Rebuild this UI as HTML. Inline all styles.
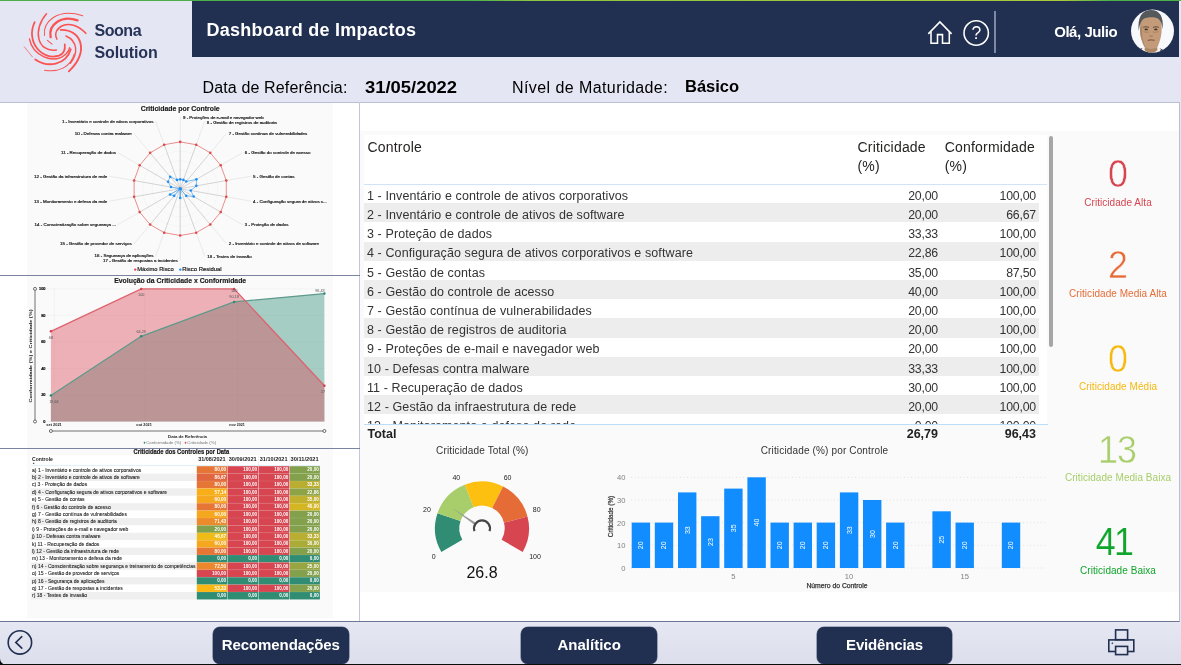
<!DOCTYPE html>
<html lang="pt-BR">
<head>
<meta charset="utf-8">
<title>Dashboard de Impactos</title>
<style>
*{box-sizing:border-box;margin:0;padding:0}
html,body{width:1181px;height:665px;overflow:hidden;background:#E4E6F3;font-family:"Liberation Sans",sans-serif;}
.abs{position:absolute}
#top{left:0;top:0;width:1181px;height:1px;background:linear-gradient(90deg,#4CB04A 0,#4CB04A 40%,#8DC63F 45%,#A9C93A 90%,#4CB04A 94%)}
#hdr{left:192px;top:1px;width:987px;height:56px;background:#212F50}
#title{left:206.5px;top:17.5px;font-size:18px;font-weight:bold;color:#fff;white-space:nowrap;line-height:24px;letter-spacing:0.27px}
.brand{color:#263357;font-size:16px;font-weight:bold;white-space:nowrap;line-height:20px}
.sub{font-size:16px;color:#000;white-space:nowrap;line-height:20px}
.subb{font-size:16.5px;color:#000;font-weight:bold;white-space:nowrap;line-height:20px}
#main{left:0;top:102px;width:1180px;height:520px;background:#fff;border:1px solid #B9BFD4;border-left:none;border-bottom-color:#6E7894}
#vdiv{left:359px;top:102px;width:1px;height:519px;background:#C3C8DA}
.hsep{left:0;width:360px;height:1px;background:#7A84A2}
.img{left:27px;width:306px;background:#FAFAFA}
#foot{left:0;top:622px;width:1181px;height:43px;background:linear-gradient(#E5E7F3,#DCDFEB)}
.btn{top:626.8px;height:37px;background:#212F50;border-radius:7px;color:#fff;font-weight:bold;font-size:15px;text-align:center;line-height:35.5px;box-shadow:0 0 0 0.6px #69738f}
#botline{left:0;top:663.6px;width:1181px;height:1.4px;background:#0c0c0c}
.th{font-size:14px;line-height:19px;color:#252423;white-space:nowrap;letter-spacing:0.2px}
.tr{left:0;width:675px;height:19.2px;font-size:12.5px;line-height:19.2px;color:#333;white-space:nowrap}
.tr span{position:absolute;top:2.9px}
.c1{left:3px;letter-spacing:0.1px}
.c2{right:101px;font-size:12.3px;letter-spacing:-0.2px}
.c3{right:3px;font-size:12.3px;letter-spacing:-0.2px}
.tot{font-size:12.5px;font-weight:bold;color:#222;line-height:19px;white-space:nowrap}
.cn{width:124px;text-align:center;font-size:39px;line-height:42px;transform:scaleX(0.92)}
.cl{left:1046px;width:144px;text-align:center;font-size:10px;line-height:12px;white-space:nowrap;letter-spacing:0.05px}
</style>
</head>
<body>
<div id="top" class="abs"></div>
<div id="hdr" class="abs"></div>
<div id="title" class="abs">Dashboard de Impactos</div>
<svg class="abs" style="left:15px;top:3px" width="80" height="77" viewBox="0 0 691 665" fill="none" stroke="#FB5252" stroke-linecap="round">
<path d="M255 280 C235 170 360 40 585 110" stroke-width="9"/>
<path d="M308 295 C285 190 400 100 540 150" stroke-width="20"/>
<path d="M362 312 C310 215 470 110 612 262" stroke-width="13"/>
<path d="M395 232 C570 225 650 420 465 590" stroke-width="16"/>
<path d="M440 285 C545 330 545 440 478 520" stroke-width="12"/>
<path d="M272 93 C150 230 190 430 358 405" stroke-width="13"/>
<path d="M170 165 C90 330 230 500 380 455 C420 440 435 400 430 358" stroke-width="15"/>
<path d="M125 310 C150 450 330 540 440 440 C460 420 470 400 472 385" stroke-width="12"/>
<path d="M175 487 C280 560 440 540 482 400" stroke-width="16"/>
<path d="M255 580 C370 600 480 560 512 440" stroke-width="9"/>
<path d="M80 378 L150 465" stroke-width="6"/>
<path d="M280 322 L320 355" stroke-width="9"/>
</svg>
<div class="abs brand" style="left:94.5px;top:20.5px;letter-spacing:-0.45px">Soona</div>
<div class="abs brand" style="left:94.5px;top:43px;letter-spacing:-0.1px">Solution</div>
<svg class="abs" style="left:915px;top:2px" width="264" height="55" viewBox="915 2 264 55">
<g fill="none" stroke="#fff" stroke-width="1.55"><path d="M928.3 33.9L939.9 21.9L951.6 33.9" stroke-linejoin="miter"/><path d="M931 31.5V43.2H937.5V34.6H942.5V43.2H949.3V31.5"/>
<circle cx="976.2" cy="33" r="12.2"/></g>
<text x="976.3" y="39.4" text-anchor="middle" font-family="Liberation Sans, sans-serif" font-size="17.5" fill="#fff">?</text>
<rect x="994" y="11" width="2" height="42" fill="#7E87A3"/>
<defs><clipPath id="av"><circle cx="1152.5" cy="31.1" r="21.5"/></clipPath></defs>
<g clip-path="url(#av)"><rect x="1130" y="8" width="46" height="46" fill="#F8F9FC"/>
<path d="M1136 56L1140.5 48.5L1145 47.5L1151 53L1158 47.5L1162.5 49.5L1168 56Z" fill="#33363F"/>
<path d="M1141.5 49L1144.8 46L1151 53.5L1157.6 46L1161 49.5L1158 54H1144Z" fill="#F4F4F6"/>
<path d="M1139.9 28C1139.9 16 1144 11.5 1151 11.5C1158 11.5 1161.9 16 1161.7 28C1161.6 34 1160.8 38 1159.6 41.5C1158.6 44.5 1157.8 46.5 1157.2 47.5L1157.6 50L1151 54.5L1144.6 50L1145 47.5C1144 46 1143 44 1142.2 41.5C1140.8 38 1139.9 34 1139.9 28Z" fill="#C39B78"/>
<path d="M1139.9 28C1139.9 34 1140.8 38 1142.2 41.5C1143 44 1144 46 1145 47.5L1144.6 50L1147 51.6C1145.5 47 1143.5 43 1142.6 38C1142 34 1142 30 1142.4 25Z" fill="#A07C5E" opacity="0.7"/>
<path d="M1146.5 47.8C1149 49.3 1154 49.3 1156.6 47.6L1157.3 50.2L1151 54.5L1145 50.4Z" fill="#A8825F" opacity="0.8"/>
<path d="M1138.7 31C1137.3 17 1142 9.9 1151 9.9C1160 9.9 1164 17 1162.6 29.5C1162.2 24 1160.6 20.5 1158 18.6C1154 16.8 1147.5 16.8 1143.8 18.8C1141.2 20.8 1139.6 24.5 1138.7 31Z" fill="#55595C"/>
<path d="M1143.2 27.4C1145 26.6 1147.5 26.6 1149 27.5M1153 27.5C1154.6 26.6 1157 26.6 1158.8 27.4" stroke="#5E4636" stroke-width="1" fill="none"/>
<ellipse cx="1146.2" cy="29.4" rx="1.7" ry="0.9" fill="#3F3129"/><ellipse cx="1155.8" cy="29.4" rx="1.7" ry="0.9" fill="#3F3129"/>
<path d="M1147.6 40.4C1149.5 39.8 1152.5 39.8 1154.6 40.4" stroke="#8A5E4A" stroke-width="1.1" fill="none"/>
<path d="M1149.2 36H1152.8" stroke="#9C7657" stroke-width="0.9"/>
<path d="M1143.5 31.5C1145.5 32.5 1148 32.5 1149.5 31.8M1152.5 31.8C1154 32.5 1156.5 32.5 1158.5 31.5" stroke="#A9825F" stroke-width="0.9" fill="none"/>
</g>
</svg>
<div class="abs" style="left:1054.2px;top:21.8px;font-size:15px;font-weight:bold;color:#fff;white-space:nowrap;line-height:20px;letter-spacing:-0.45px">Olá, Julio</div>
<div class="abs sub" style="left:202.5px;top:77.5px;letter-spacing:0.14px">Data de Referência:</div>
<div class="abs subb" style="left:364.5px;top:77px;transform:scaleX(1.115);transform-origin:0 0">31/05/2022</div>
<div class="abs sub" style="left:512px;top:77.5px;letter-spacing:0.42px">Nível de Maturidade:</div>
<div class="abs subb" style="left:685px;top:75.5px">Básico</div>

<div id="main" class="abs"></div>
<div id="vdiv" class="abs"></div>
<div class="abs img" style="top:103px;height:172px"></div>
<div class="abs hsep" style="top:275px"></div>
<div class="abs img" style="top:276px;height:172px"></div>
<div class="abs hsep" style="top:448px"></div>
<div class="abs img" style="top:449px;height:169px"></div>
<svg class="abs" style="left:27px;top:103px" width="306" height="172" viewBox="27 103 306 172" font-family="Liberation Sans, sans-serif">
<text x="180.2" y="110.9" text-anchor="middle" font-size="6.3" font-weight="bold" fill="#1a1a1a" stroke="#1a1a1a" stroke-width="0.15" textLength="79" lengthAdjust="spacingAndGlyphs">Criticidade por Controle</text>
<circle cx="180.2" cy="188.7" r="9.36" fill="none" stroke="#EDEDED" stroke-width="0.4"/>
<circle cx="180.2" cy="188.7" r="18.72" fill="none" stroke="#EDEDED" stroke-width="0.4"/>
<circle cx="180.2" cy="188.7" r="28.08" fill="none" stroke="#EDEDED" stroke-width="0.4"/>
<circle cx="180.2" cy="188.7" r="37.44" fill="none" stroke="#EDEDED" stroke-width="0.4"/>
<line x1="180.2" y1="188.7" x2="180.20" y2="141.90" stroke="#ADADAD" stroke-width="0.5"/>
<line x1="180.20" y1="141.90" x2="180.20" y2="116.70" stroke="#E2E2E2" stroke-width="0.7"/>
<line x1="180.2" y1="188.7" x2="196.21" y2="144.72" stroke="#ADADAD" stroke-width="0.5"/>
<line x1="196.21" y1="144.72" x2="204.83" y2="121.04" stroke="#E2E2E2" stroke-width="0.7"/>
<line x1="180.2" y1="188.7" x2="210.28" y2="152.85" stroke="#ADADAD" stroke-width="0.5"/>
<line x1="210.28" y1="152.85" x2="226.48" y2="133.54" stroke="#E2E2E2" stroke-width="0.7"/>
<line x1="180.2" y1="188.7" x2="220.73" y2="165.30" stroke="#ADADAD" stroke-width="0.5"/>
<line x1="220.73" y1="165.30" x2="242.55" y2="152.70" stroke="#E2E2E2" stroke-width="0.7"/>
<line x1="180.2" y1="188.7" x2="226.29" y2="180.57" stroke="#ADADAD" stroke-width="0.5"/>
<line x1="226.29" y1="180.57" x2="251.11" y2="176.20" stroke="#E2E2E2" stroke-width="0.7"/>
<line x1="180.2" y1="188.7" x2="226.29" y2="196.83" stroke="#ADADAD" stroke-width="0.5"/>
<line x1="226.29" y1="196.83" x2="251.11" y2="201.20" stroke="#E2E2E2" stroke-width="0.7"/>
<line x1="180.2" y1="188.7" x2="220.73" y2="212.10" stroke="#ADADAD" stroke-width="0.5"/>
<line x1="220.73" y1="212.10" x2="242.55" y2="224.70" stroke="#E2E2E2" stroke-width="0.7"/>
<line x1="180.2" y1="188.7" x2="210.28" y2="224.55" stroke="#ADADAD" stroke-width="0.5"/>
<line x1="210.28" y1="224.55" x2="226.48" y2="243.86" stroke="#E2E2E2" stroke-width="0.7"/>
<line x1="180.2" y1="188.7" x2="196.21" y2="232.68" stroke="#ADADAD" stroke-width="0.5"/>
<line x1="196.21" y1="232.68" x2="204.83" y2="256.36" stroke="#E2E2E2" stroke-width="0.7"/>
<line x1="180.2" y1="188.7" x2="180.20" y2="235.50" stroke="#ADADAD" stroke-width="0.5"/>
<line x1="180.20" y1="235.50" x2="180.20" y2="260.70" stroke="#E2E2E2" stroke-width="0.7"/>
<line x1="180.2" y1="188.7" x2="164.19" y2="232.68" stroke="#ADADAD" stroke-width="0.5"/>
<line x1="164.19" y1="232.68" x2="155.57" y2="256.36" stroke="#E2E2E2" stroke-width="0.7"/>
<line x1="180.2" y1="188.7" x2="150.12" y2="224.55" stroke="#ADADAD" stroke-width="0.5"/>
<line x1="150.12" y1="224.55" x2="133.92" y2="243.86" stroke="#E2E2E2" stroke-width="0.7"/>
<line x1="180.2" y1="188.7" x2="139.67" y2="212.10" stroke="#ADADAD" stroke-width="0.5"/>
<line x1="139.67" y1="212.10" x2="117.85" y2="224.70" stroke="#E2E2E2" stroke-width="0.7"/>
<line x1="180.2" y1="188.7" x2="134.11" y2="196.83" stroke="#ADADAD" stroke-width="0.5"/>
<line x1="134.11" y1="196.83" x2="109.29" y2="201.20" stroke="#E2E2E2" stroke-width="0.7"/>
<line x1="180.2" y1="188.7" x2="134.11" y2="180.57" stroke="#ADADAD" stroke-width="0.5"/>
<line x1="134.11" y1="180.57" x2="109.29" y2="176.20" stroke="#E2E2E2" stroke-width="0.7"/>
<line x1="180.2" y1="188.7" x2="139.67" y2="165.30" stroke="#ADADAD" stroke-width="0.5"/>
<line x1="139.67" y1="165.30" x2="117.85" y2="152.70" stroke="#E2E2E2" stroke-width="0.7"/>
<line x1="180.2" y1="188.7" x2="150.12" y2="152.85" stroke="#ADADAD" stroke-width="0.5"/>
<line x1="150.12" y1="152.85" x2="133.92" y2="133.54" stroke="#E2E2E2" stroke-width="0.7"/>
<line x1="180.2" y1="188.7" x2="164.19" y2="144.72" stroke="#ADADAD" stroke-width="0.5"/>
<line x1="164.19" y1="144.72" x2="155.57" y2="121.04" stroke="#E2E2E2" stroke-width="0.7"/>
<polygon points="180.20,141.90 196.21,144.72 210.28,152.85 220.73,165.30 226.29,180.57 226.29,196.83 220.73,212.10 210.28,224.55 196.21,232.68 180.20,235.50 164.19,232.68 150.12,224.55 139.67,212.10 134.11,196.83 134.11,180.57 139.67,165.30 150.12,152.85 164.19,144.72" fill="none" stroke="#E46A6A" stroke-width="0.75"/>
<circle cx="180.20" cy="141.90" r="1.3" fill="#DE4B4B"/>
<circle cx="196.21" cy="144.72" r="1.3" fill="#DE4B4B"/>
<circle cx="210.28" cy="152.85" r="1.3" fill="#DE4B4B"/>
<circle cx="220.73" cy="165.30" r="1.3" fill="#DE4B4B"/>
<circle cx="226.29" cy="180.57" r="1.3" fill="#DE4B4B"/>
<circle cx="226.29" cy="196.83" r="1.3" fill="#DE4B4B"/>
<circle cx="220.73" cy="212.10" r="1.3" fill="#DE4B4B"/>
<circle cx="210.28" cy="224.55" r="1.3" fill="#DE4B4B"/>
<circle cx="196.21" cy="232.68" r="1.3" fill="#DE4B4B"/>
<circle cx="180.20" cy="235.50" r="1.3" fill="#DE4B4B"/>
<circle cx="164.19" cy="232.68" r="1.3" fill="#DE4B4B"/>
<circle cx="150.12" cy="224.55" r="1.3" fill="#DE4B4B"/>
<circle cx="139.67" cy="212.10" r="1.3" fill="#DE4B4B"/>
<circle cx="134.11" cy="196.83" r="1.3" fill="#DE4B4B"/>
<circle cx="134.11" cy="180.57" r="1.3" fill="#DE4B4B"/>
<circle cx="139.67" cy="165.30" r="1.3" fill="#DE4B4B"/>
<circle cx="150.12" cy="152.85" r="1.3" fill="#DE4B4B"/>
<circle cx="164.19" cy="144.72" r="1.3" fill="#DE4B4B"/>
<polygon points="180.20,179.34 183.40,179.90 186.22,181.53 196.41,179.34 196.33,185.86 190.74,190.56 193.71,196.50 186.22,195.87 180.20,188.70 180.20,198.06 180.20,188.70 174.18,195.87 170.07,194.55 180.20,188.70 170.98,187.07 168.04,181.68 170.17,176.75 177.00,179.90" fill="none" stroke="#3DA0F5" stroke-width="0.7"/>
<circle cx="180.20" cy="179.34" r="1.3" fill="#1E8EF5"/>
<circle cx="183.40" cy="179.90" r="1.3" fill="#1E8EF5"/>
<circle cx="186.22" cy="181.53" r="1.3" fill="#1E8EF5"/>
<circle cx="196.41" cy="179.34" r="1.3" fill="#1E8EF5"/>
<circle cx="196.33" cy="185.86" r="1.3" fill="#1E8EF5"/>
<circle cx="190.74" cy="190.56" r="1.3" fill="#1E8EF5"/>
<circle cx="193.71" cy="196.50" r="1.3" fill="#1E8EF5"/>
<circle cx="186.22" cy="195.87" r="1.3" fill="#1E8EF5"/>
<circle cx="180.20" cy="188.70" r="1.3" fill="#1E8EF5"/>
<circle cx="180.20" cy="198.06" r="1.3" fill="#1E8EF5"/>
<circle cx="180.20" cy="188.70" r="1.3" fill="#1E8EF5"/>
<circle cx="174.18" cy="195.87" r="1.3" fill="#1E8EF5"/>
<circle cx="170.07" cy="194.55" r="1.3" fill="#1E8EF5"/>
<circle cx="180.20" cy="188.70" r="1.3" fill="#1E8EF5"/>
<circle cx="170.98" cy="187.07" r="1.3" fill="#1E8EF5"/>
<circle cx="168.04" cy="181.68" r="1.3" fill="#1E8EF5"/>
<circle cx="170.17" cy="176.75" r="1.3" fill="#1E8EF5"/>
<circle cx="177.00" cy="179.90" r="1.3" fill="#1E8EF5"/>
<circle cx="180.2" cy="188.7" r="1.5" fill="#1E8EF5"/>
<text x="183" y="118.5" font-size="4.2" fill="#222" textLength="80.7" lengthAdjust="spacingAndGlyphs" stroke="#222" stroke-width="0.2">9 - Proteções de e-mail e navegador web</text>
<text x="206.7" y="124.2" font-size="4.2" fill="#222" textLength="70.1" lengthAdjust="spacingAndGlyphs" stroke="#222" stroke-width="0.2">8 - Gestão de registros de auditoria</text>
<text x="228.7" y="135.2" font-size="4.2" fill="#222" textLength="78.6" lengthAdjust="spacingAndGlyphs" stroke="#222" stroke-width="0.2">7 - Gestão contínua de vulnerabilidades</text>
<text x="244.8" y="154.1" font-size="4.2" fill="#222" textLength="65.6" lengthAdjust="spacingAndGlyphs" stroke="#222" stroke-width="0.2">6 - Gestão do controle de acesso</text>
<text x="253" y="178.2" font-size="4.2" fill="#222" textLength="41.5" lengthAdjust="spacingAndGlyphs" stroke="#222" stroke-width="0.2">5 - Gestão de contas</text>
<text x="253" y="203.2" font-size="4.2" fill="#222" textLength="73.8" lengthAdjust="spacingAndGlyphs" stroke="#222" stroke-width="0.2">4 - Configuração segura de ativos c...</text>
<text x="244.8" y="226.1" font-size="4.2" fill="#222" textLength="43.6" lengthAdjust="spacingAndGlyphs" stroke="#222" stroke-width="0.2">3 - Proteção de dados</text>
<text x="228.7" y="245.3" font-size="4.2" fill="#222" textLength="90.3" lengthAdjust="spacingAndGlyphs" stroke="#222" stroke-width="0.2">2 - Inventário e controle de ativos de software</text>
<text x="207.3" y="258.1" font-size="4.2" fill="#222" textLength="44.5" lengthAdjust="spacingAndGlyphs" stroke="#222" stroke-width="0.2">18 - Testes de invasão</text>
<text x="103" y="262.4" font-size="4.2" fill="#222" textLength="74.7" lengthAdjust="spacingAndGlyphs" stroke="#222" stroke-width="0.2">17 - Gestão de respostas a incidentes</text>
<text x="94.5" y="257.2" font-size="4.2" fill="#222" textLength="58.9" lengthAdjust="spacingAndGlyphs" stroke="#222" stroke-width="0.2">16 - Segurança de aplicações</text>
<text x="60" y="245.3" font-size="4.2" fill="#222" textLength="71.7" lengthAdjust="spacingAndGlyphs" stroke="#222" stroke-width="0.2">15 - Gestão de provedor de serviços</text>
<text x="34.5" y="226.1" font-size="4.2" fill="#222" textLength="81.4" lengthAdjust="spacingAndGlyphs" stroke="#222" stroke-width="0.2">14 - Conscientização sobre segurança ...</text>
<text x="34.1" y="203.2" font-size="4.2" fill="#222" textLength="73.2" lengthAdjust="spacingAndGlyphs" stroke="#222" stroke-width="0.2">13 - Monitoramento e defesa da rede</text>
<text x="34.1" y="178.2" font-size="4.2" fill="#222" textLength="73.2" lengthAdjust="spacingAndGlyphs" stroke="#222" stroke-width="0.2">12 - Gestão da infraestrutura de rede</text>
<text x="61" y="154.1" font-size="4.2" fill="#222" textLength="54.9" lengthAdjust="spacingAndGlyphs" stroke="#222" stroke-width="0.2">11 - Recuperação de dados</text>
<text x="74.7" y="135.2" font-size="4.2" fill="#222" textLength="57.0" lengthAdjust="spacingAndGlyphs" stroke="#222" stroke-width="0.2">10 - Defesas contra malware</text>
<text x="61.9" y="123.3" font-size="4.2" fill="#222" textLength="91.5" lengthAdjust="spacingAndGlyphs" stroke="#222" stroke-width="0.2">1 - Inventário e controle de ativos corporativos</text>
<circle cx="135.2" cy="269.6" r="1.2" fill="#DE4B4B"/><text x="137.2" y="271.4" font-size="5.4" fill="#111" stroke="#111" stroke-width="0.15" textLength="36.5" lengthAdjust="spacingAndGlyphs">Máximo Risco</text>
<circle cx="180.3" cy="269.6" r="1.2" fill="#1E8EF5"/><text x="182.3" y="271.4" font-size="5.4" fill="#111" stroke="#111" stroke-width="0.15" textLength="39.3" lengthAdjust="spacingAndGlyphs">Risco Residual</text>
</svg>
<svg class="abs" style="left:27px;top:276px" width="306" height="172" viewBox="27 276 306 172" font-family="Liberation Sans, sans-serif">
<text x="180.2" y="283.4" text-anchor="middle" font-size="6.3" font-weight="bold" fill="#1a1a1a" stroke="#1a1a1a" stroke-width="0.15" textLength="132" lengthAdjust="spacingAndGlyphs">Evolução da Criticidade x Conformidade</text>
<line x1="47" x2="325" y1="421.5" y2="421.5" stroke="#CFCFCF" stroke-width="0.4" stroke-dasharray="0.6 1"/>
<text x="45.5" y="422.9" text-anchor="end" font-size="3.9" font-weight="bold" fill="#111" stroke="#111" stroke-width="0.2">0</text>
<line x1="47" x2="325" y1="395.0" y2="395.0" stroke="#CFCFCF" stroke-width="0.4" stroke-dasharray="0.6 1"/>
<text x="45.5" y="396.4" text-anchor="end" font-size="3.9" font-weight="bold" fill="#111" stroke="#111" stroke-width="0.2">20</text>
<line x1="47" x2="325" y1="368.5" y2="368.5" stroke="#CFCFCF" stroke-width="0.4" stroke-dasharray="0.6 1"/>
<text x="45.5" y="369.9" text-anchor="end" font-size="3.9" font-weight="bold" fill="#111" stroke="#111" stroke-width="0.2">40</text>
<line x1="47" x2="325" y1="341.9" y2="341.9" stroke="#CFCFCF" stroke-width="0.4" stroke-dasharray="0.6 1"/>
<text x="45.5" y="343.3" text-anchor="end" font-size="3.9" font-weight="bold" fill="#111" stroke="#111" stroke-width="0.2">60</text>
<line x1="47" x2="325" y1="315.4" y2="315.4" stroke="#CFCFCF" stroke-width="0.4" stroke-dasharray="0.6 1"/>
<text x="45.5" y="316.8" text-anchor="end" font-size="3.9" font-weight="bold" fill="#111" stroke="#111" stroke-width="0.2">80</text>
<line x1="47" x2="325" y1="288.9" y2="288.9" stroke="#CFCFCF" stroke-width="0.4" stroke-dasharray="0.6 1"/>
<text x="45.5" y="290.3" text-anchor="end" font-size="3.9" font-weight="bold" fill="#111" stroke="#111" stroke-width="0.2">100</text>
<line x1="54.4" x2="54.4" y1="288.9" y2="421.5" stroke="#CFCFCF" stroke-width="0.4" stroke-dasharray="0.6 1"/>
<line x1="144.7" x2="144.7" y1="288.9" y2="421.5" stroke="#CFCFCF" stroke-width="0.4" stroke-dasharray="0.6 1"/>
<line x1="237.6" x2="237.6" y1="288.9" y2="421.5" stroke="#CFCFCF" stroke-width="0.4" stroke-dasharray="0.6 1"/>
<polygon points="50.9,395.5 141.2,336.3 234.1,301.9 324.4,293.6 324.4,421.5 50.9,421.5" fill="#2F8F78" fill-opacity="0.42"/>
<polygon points="50.9,331.3 141.2,288.9 234.1,288.9 324.4,385.7 324.4,421.5 50.9,421.5" fill="#DC4A5A" fill-opacity="0.42"/>
<polyline points="50.9,395.5 141.2,336.3 234.1,301.9 324.4,293.6" fill="none" stroke="#5E9A8B" stroke-width="1.35"/>
<polyline points="50.9,331.3 141.2,288.9 234.1,288.9 324.4,385.7" fill="none" stroke="#DC6470" stroke-width="1.35"/>
<circle cx="50.9" cy="395.5" r="1.25" fill="#2E8B74"/>
<circle cx="141.2" cy="336.3" r="1.25" fill="#2E8B74"/>
<circle cx="234.1" cy="301.9" r="1.25" fill="#2E8B74"/>
<circle cx="324.4" cy="293.6" r="1.25" fill="#2E8B74"/>
<circle cx="50.9" cy="331.3" r="1.25" fill="#DB3F4C"/>
<circle cx="141.2" cy="288.9" r="1.25" fill="#DB3F4C"/>
<circle cx="234.1" cy="288.9" r="1.25" fill="#DB3F4C"/>
<circle cx="324.4" cy="385.7" r="1.25" fill="#DB3F4C"/>
<text x="50.9" y="338.8" text-anchor="middle" font-size="3.8" fill="#555">68</text>
<text x="141.2" y="295.9" text-anchor="middle" font-size="3.8" fill="#555">100</text>
<text x="234.1" y="292.4" text-anchor="middle" font-size="3.8" fill="#555">100</text>
<text x="323.0" y="393.2" text-anchor="middle" font-size="3.8" fill="#555">27</text>
<text x="54.0" y="403.0" text-anchor="middle" font-size="3.8" fill="#555">19,64</text>
<text x="141.2" y="332.8" text-anchor="middle" font-size="3.8" fill="#555">64,29</text>
<text x="234.1" y="298.4" text-anchor="middle" font-size="3.8" fill="#555">90,18</text>
<text x="320.0" y="291.6" text-anchor="middle" font-size="3.8" fill="#555">96,43</text>
<line x1="35" x2="35" y1="290.4" y2="420.0" stroke="#000" stroke-width="0.55"/><circle cx="35" cy="288.9" r="1.5" fill="#fff" stroke="#111" stroke-width="0.6"/><circle cx="35" cy="421.5" r="1.5" fill="#fff" stroke="#111" stroke-width="0.6"/>
<line x1="52.4" x2="322.9" y1="431" y2="431" stroke="#000" stroke-width="0.55"/><circle cx="50.9" cy="431" r="1.5" fill="#fff" stroke="#111" stroke-width="0.6"/><circle cx="324.4" cy="431" r="1.5" fill="#fff" stroke="#111" stroke-width="0.6"/>
<text x="46.3" y="426.3" font-size="3.9" font-weight="bold" fill="#222" textLength="15.5" lengthAdjust="spacingAndGlyphs">set 2021</text>
<text x="136.3" y="426.3" font-size="3.9" font-weight="bold" fill="#222" textLength="15.5" lengthAdjust="spacingAndGlyphs">out 2021</text>
<text x="229.3" y="426.3" font-size="3.9" font-weight="bold" fill="#222" textLength="15.5" lengthAdjust="spacingAndGlyphs">nov 2021</text>
<text x="187.5" y="438.2" text-anchor="middle" font-size="4" font-weight="bold" fill="#222" textLength="39" lengthAdjust="spacingAndGlyphs">Data de Referência</text>
<text transform="translate(31.8 356) rotate(-90)" text-anchor="middle" font-size="3.6" font-weight="bold" fill="#111" textLength="93" lengthAdjust="spacingAndGlyphs">Conformidade (%) e Criticidade (%)</text>
<path d="M144.5 441.5l1 1.3l-1 1.3l-1-1.3z" fill="#2E8B74"/><text x="146.2" y="444.2" font-size="3.9" fill="#777" textLength="35" lengthAdjust="spacingAndGlyphs">Conformidade (%)</text>
<path d="M185.5 441.5l1 1.3l-1 1.3l-1-1.3z" fill="#DB3F4C"/><text x="187.2" y="444.2" font-size="3.9" fill="#777" textLength="29" lengthAdjust="spacingAndGlyphs">Criticidade (%)</text>
</svg>
<svg class="abs" style="left:27px;top:449px" width="306" height="169" viewBox="27 449 306 169" font-family="Liberation Sans, sans-serif">
<text x="181.4" y="453.7" text-anchor="middle" font-size="6.4" font-weight="bold" fill="#1a1a1a" stroke="#1a1a1a" stroke-width="0.2" textLength="95.7" lengthAdjust="spacingAndGlyphs">Criticidade dos Controles por Data</text>
<rect x="31.1" y="455.2" width="289" height="10.4" fill="#fff"/>
<text x="32" y="460.8" font-size="5.1" font-weight="bold" fill="#222">Controle</text>
<path d="M32.6 463.8l1-1.3l1 1.3z" fill="#222"/>
<text x="198.2" y="460.9" font-size="5" font-weight="bold" fill="#222" textLength="27.4" lengthAdjust="spacingAndGlyphs">31/08/2021</text>
<text x="228.7" y="460.9" font-size="5" font-weight="bold" fill="#222" textLength="28.0" lengthAdjust="spacingAndGlyphs">30/09/2021</text>
<text x="259.8" y="460.9" font-size="5" font-weight="bold" fill="#222" textLength="27.7" lengthAdjust="spacingAndGlyphs">31/10/2021</text>
<text x="290.5" y="460.9" font-size="5" font-weight="bold" fill="#222" textLength="28.1" lengthAdjust="spacingAndGlyphs">30/11/2021</text>
<line x1="227.4" x2="227.4" y1="455.2" y2="465.6" stroke="#DDD" stroke-width="0.4"/>
<line x1="258.5" x2="258.5" y1="455.2" y2="465.6" stroke="#DDD" stroke-width="0.4"/>
<line x1="289.6" x2="289.6" y1="455.2" y2="465.6" stroke="#DDD" stroke-width="0.4"/>
<line x1="31.1" x2="320.1" y1="465.7" y2="465.7" stroke="#BBDDF7" stroke-width="0.5"/>
<rect x="31.1" y="466.2" width="165.5" height="7.4" fill="#fff"/>
<text transform="translate(32 471.5) scale(1.125 1)" font-size="4.5" fill="#222" stroke="#222" stroke-width="0.08">a) 1 - Inventário e controle de ativos corporativos</text>
<rect x="196.8" y="466.2" width="30.4" height="7.45" fill="#E67636"/>
<text x="226.1" y="471.3" text-anchor="end" font-size="4.6" font-weight="bold" fill="#fff">80,00</text>
<rect x="227.6" y="466.2" width="30.7" height="7.45" fill="#D64550"/>
<text x="257.2" y="471.3" text-anchor="end" font-size="4.6" font-weight="bold" fill="#fff">100,00</text>
<rect x="258.7" y="466.2" width="30.7" height="7.45" fill="#D64550"/>
<text x="288.3" y="471.3" text-anchor="end" font-size="4.6" font-weight="bold" fill="#fff">100,00</text>
<rect x="289.8" y="466.2" width="30.1" height="7.45" fill="#83A04C"/>
<text x="318.8" y="471.3" text-anchor="end" font-size="4.6" font-weight="bold" fill="#fff">20,00</text>
<rect x="31.1" y="473.6" width="165.5" height="7.4" fill="#EFEFEF"/>
<text transform="translate(32 478.9) scale(1.125 1)" font-size="4.5" fill="#222" stroke="#222" stroke-width="0.08">b) 2 - Inventário e controle de ativos de software</text>
<rect x="196.8" y="473.6" width="30.4" height="7.45" fill="#E0663F"/>
<text x="226.1" y="478.7" text-anchor="end" font-size="4.6" font-weight="bold" fill="#fff">86,67</text>
<rect x="227.6" y="473.6" width="30.7" height="7.45" fill="#D64550"/>
<text x="257.2" y="478.7" text-anchor="end" font-size="4.6" font-weight="bold" fill="#fff">100,00</text>
<rect x="258.7" y="473.6" width="30.7" height="7.45" fill="#D64550"/>
<text x="288.3" y="478.7" text-anchor="end" font-size="4.6" font-weight="bold" fill="#fff">100,00</text>
<rect x="289.8" y="473.6" width="30.1" height="7.45" fill="#83A04C"/>
<text x="318.8" y="478.7" text-anchor="end" font-size="4.6" font-weight="bold" fill="#fff">20,00</text>
<rect x="31.1" y="481.0" width="165.5" height="7.4" fill="#fff"/>
<text transform="translate(32 486.3) scale(1.125 1)" font-size="4.5" fill="#222" stroke="#222" stroke-width="0.08">c) 3 - Proteção de dados</text>
<rect x="196.8" y="481.0" width="30.4" height="7.45" fill="#E67636"/>
<text x="226.1" y="486.1" text-anchor="end" font-size="4.6" font-weight="bold" fill="#fff">80,00</text>
<rect x="227.6" y="481.0" width="30.7" height="7.45" fill="#D64550"/>
<text x="257.2" y="486.1" text-anchor="end" font-size="4.6" font-weight="bold" fill="#fff">100,00</text>
<rect x="258.7" y="481.0" width="30.7" height="7.45" fill="#D64550"/>
<text x="288.3" y="486.1" text-anchor="end" font-size="4.6" font-weight="bold" fill="#fff">100,00</text>
<rect x="289.8" y="481.0" width="30.1" height="7.45" fill="#B9AE31"/>
<text x="318.8" y="486.1" text-anchor="end" font-size="4.6" font-weight="bold" fill="#fff">33,33</text>
<rect x="31.1" y="488.4" width="165.5" height="7.4" fill="#EFEFEF"/>
<text transform="translate(32 493.7) scale(1.125 1)" font-size="4.5" fill="#222" stroke="#222" stroke-width="0.08">d) 4 - Configuração segura de ativos corporativos e software</text>
<rect x="196.8" y="488.4" width="30.4" height="7.45" fill="#F7AE19"/>
<text x="226.1" y="493.5" text-anchor="end" font-size="4.6" font-weight="bold" fill="#fff">57,14</text>
<rect x="227.6" y="488.4" width="30.7" height="7.45" fill="#D64550"/>
<text x="257.2" y="493.5" text-anchor="end" font-size="4.6" font-weight="bold" fill="#fff">100,00</text>
<rect x="258.7" y="488.4" width="30.7" height="7.45" fill="#D64550"/>
<text x="288.3" y="493.5" text-anchor="end" font-size="4.6" font-weight="bold" fill="#fff">100,00</text>
<rect x="289.8" y="488.4" width="30.1" height="7.45" fill="#8EA346"/>
<text x="318.8" y="493.5" text-anchor="end" font-size="4.6" font-weight="bold" fill="#fff">22,86</text>
<rect x="31.1" y="495.8" width="165.5" height="7.4" fill="#fff"/>
<text transform="translate(32 501.1) scale(1.125 1)" font-size="4.5" fill="#222" stroke="#222" stroke-width="0.08">e) 5 - Gestão de contas</text>
<rect x="196.8" y="495.8" width="30.4" height="7.45" fill="#F5A71D"/>
<text x="226.1" y="500.9" text-anchor="end" font-size="4.6" font-weight="bold" fill="#fff">60,00</text>
<rect x="227.6" y="495.8" width="30.7" height="7.45" fill="#D64550"/>
<text x="257.2" y="500.9" text-anchor="end" font-size="4.6" font-weight="bold" fill="#fff">100,00</text>
<rect x="258.7" y="495.8" width="30.7" height="7.45" fill="#D64550"/>
<text x="288.3" y="500.9" text-anchor="end" font-size="4.6" font-weight="bold" fill="#fff">100,00</text>
<rect x="289.8" y="495.8" width="30.1" height="7.45" fill="#C0B02E"/>
<text x="318.8" y="500.9" text-anchor="end" font-size="4.6" font-weight="bold" fill="#fff">35,00</text>
<rect x="31.1" y="503.2" width="165.5" height="7.4" fill="#EFEFEF"/>
<text transform="translate(32 508.5) scale(1.125 1)" font-size="4.5" fill="#222" stroke="#222" stroke-width="0.08">f) 6 - Gestão do controle de acesso</text>
<rect x="196.8" y="503.2" width="30.4" height="7.45" fill="#E67636"/>
<text x="226.1" y="508.3" text-anchor="end" font-size="4.6" font-weight="bold" fill="#fff">80,00</text>
<rect x="227.6" y="503.2" width="30.7" height="7.45" fill="#D64550"/>
<text x="257.2" y="508.3" text-anchor="end" font-size="4.6" font-weight="bold" fill="#fff">100,00</text>
<rect x="258.7" y="503.2" width="30.7" height="7.45" fill="#D64550"/>
<text x="288.3" y="508.3" text-anchor="end" font-size="4.6" font-weight="bold" fill="#fff">100,00</text>
<rect x="289.8" y="503.2" width="30.1" height="7.45" fill="#D4B524"/>
<text x="318.8" y="508.3" text-anchor="end" font-size="4.6" font-weight="bold" fill="#fff">40,00</text>
<rect x="31.1" y="510.6" width="165.5" height="7.4" fill="#fff"/>
<text transform="translate(32 515.9) scale(1.125 1)" font-size="4.5" fill="#222" stroke="#222" stroke-width="0.08">g) 7 - Gestão contínua de vulnerabilidades</text>
<rect x="196.8" y="510.6" width="30.4" height="7.45" fill="#F5A71D"/>
<text x="226.1" y="515.7" text-anchor="end" font-size="4.6" font-weight="bold" fill="#fff">60,00</text>
<rect x="227.6" y="510.6" width="30.7" height="7.45" fill="#D64550"/>
<text x="257.2" y="515.7" text-anchor="end" font-size="4.6" font-weight="bold" fill="#fff">100,00</text>
<rect x="258.7" y="510.6" width="30.7" height="7.45" fill="#D64550"/>
<text x="288.3" y="515.7" text-anchor="end" font-size="4.6" font-weight="bold" fill="#fff">100,00</text>
<rect x="289.8" y="510.6" width="30.1" height="7.45" fill="#83A04C"/>
<text x="318.8" y="515.7" text-anchor="end" font-size="4.6" font-weight="bold" fill="#fff">20,00</text>
<rect x="31.1" y="518.0" width="165.5" height="7.4" fill="#EFEFEF"/>
<text transform="translate(32 523.3) scale(1.125 1)" font-size="4.5" fill="#222" stroke="#222" stroke-width="0.08">h) 8 - Gestão de registros de auditoria</text>
<rect x="196.8" y="518.0" width="30.4" height="7.45" fill="#EC8B2B"/>
<text x="226.1" y="523.1" text-anchor="end" font-size="4.6" font-weight="bold" fill="#fff">71,43</text>
<rect x="227.6" y="518.0" width="30.7" height="7.45" fill="#D64550"/>
<text x="257.2" y="523.1" text-anchor="end" font-size="4.6" font-weight="bold" fill="#fff">100,00</text>
<rect x="258.7" y="518.0" width="30.7" height="7.45" fill="#D64550"/>
<text x="288.3" y="523.1" text-anchor="end" font-size="4.6" font-weight="bold" fill="#fff">100,00</text>
<rect x="289.8" y="518.0" width="30.1" height="7.45" fill="#83A04C"/>
<text x="318.8" y="523.1" text-anchor="end" font-size="4.6" font-weight="bold" fill="#fff">20,00</text>
<rect x="31.1" y="525.4" width="165.5" height="7.4" fill="#fff"/>
<text transform="translate(32 530.7) scale(1.125 1)" font-size="4.5" fill="#222" stroke="#222" stroke-width="0.08">i) 9 - Proteções de e-mail e navegador web</text>
<rect x="196.8" y="525.4" width="30.4" height="7.45" fill="#83A04C"/>
<text x="226.1" y="530.5" text-anchor="end" font-size="4.6" font-weight="bold" fill="#fff">20,00</text>
<rect x="227.6" y="525.4" width="30.7" height="7.45" fill="#D64550"/>
<text x="257.2" y="530.5" text-anchor="end" font-size="4.6" font-weight="bold" fill="#fff">100,00</text>
<rect x="258.7" y="525.4" width="30.7" height="7.45" fill="#D64550"/>
<text x="288.3" y="530.5" text-anchor="end" font-size="4.6" font-weight="bold" fill="#fff">100,00</text>
<rect x="289.8" y="525.4" width="30.1" height="7.45" fill="#83A04C"/>
<text x="318.8" y="530.5" text-anchor="end" font-size="4.6" font-weight="bold" fill="#fff">20,00</text>
<rect x="31.1" y="532.8" width="165.5" height="7.4" fill="#EFEFEF"/>
<text transform="translate(32 538.1) scale(1.125 1)" font-size="4.5" fill="#222" stroke="#222" stroke-width="0.08">j) 10 - Defesas contra malware</text>
<rect x="196.8" y="532.8" width="30.4" height="7.45" fill="#EFBC17"/>
<text x="226.1" y="537.9" text-anchor="end" font-size="4.6" font-weight="bold" fill="#fff">46,67</text>
<rect x="227.6" y="532.8" width="30.7" height="7.45" fill="#D64550"/>
<text x="257.2" y="537.9" text-anchor="end" font-size="4.6" font-weight="bold" fill="#fff">100,00</text>
<rect x="258.7" y="532.8" width="30.7" height="7.45" fill="#D64550"/>
<text x="288.3" y="537.9" text-anchor="end" font-size="4.6" font-weight="bold" fill="#fff">100,00</text>
<rect x="289.8" y="532.8" width="30.1" height="7.45" fill="#B9AE31"/>
<text x="318.8" y="537.9" text-anchor="end" font-size="4.6" font-weight="bold" fill="#fff">33,33</text>
<rect x="31.1" y="540.2" width="165.5" height="7.4" fill="#fff"/>
<text transform="translate(32 545.5) scale(1.125 1)" font-size="4.5" fill="#222" stroke="#222" stroke-width="0.08">k) 11 - Recuperação de dados</text>
<rect x="196.8" y="540.2" width="30.4" height="7.45" fill="#F5A71D"/>
<text x="226.1" y="545.3" text-anchor="end" font-size="4.6" font-weight="bold" fill="#fff">60,00</text>
<rect x="227.6" y="540.2" width="30.7" height="7.45" fill="#D64550"/>
<text x="257.2" y="545.3" text-anchor="end" font-size="4.6" font-weight="bold" fill="#fff">100,00</text>
<rect x="258.7" y="540.2" width="30.7" height="7.45" fill="#D64550"/>
<text x="288.3" y="545.3" text-anchor="end" font-size="4.6" font-weight="bold" fill="#fff">100,00</text>
<rect x="289.8" y="540.2" width="30.1" height="7.45" fill="#ABAB38"/>
<text x="318.8" y="545.3" text-anchor="end" font-size="4.6" font-weight="bold" fill="#fff">30,00</text>
<rect x="31.1" y="547.6" width="165.5" height="7.4" fill="#EFEFEF"/>
<text transform="translate(32 552.9) scale(1.125 1)" font-size="4.5" fill="#222" stroke="#222" stroke-width="0.08">l) 12 - Gestão da infraestrutura de rede</text>
<rect x="196.8" y="547.6" width="30.4" height="7.45" fill="#E67636"/>
<text x="226.1" y="552.7" text-anchor="end" font-size="4.6" font-weight="bold" fill="#fff">80,00</text>
<rect x="227.6" y="547.6" width="30.7" height="7.45" fill="#D64550"/>
<text x="257.2" y="552.7" text-anchor="end" font-size="4.6" font-weight="bold" fill="#fff">100,00</text>
<rect x="258.7" y="547.6" width="30.7" height="7.45" fill="#D64550"/>
<text x="288.3" y="552.7" text-anchor="end" font-size="4.6" font-weight="bold" fill="#fff">100,00</text>
<rect x="289.8" y="547.6" width="30.1" height="7.45" fill="#83A04C"/>
<text x="318.8" y="552.7" text-anchor="end" font-size="4.6" font-weight="bold" fill="#fff">20,00</text>
<rect x="31.1" y="555.0" width="165.5" height="7.4" fill="#fff"/>
<text transform="translate(32 560.3) scale(1.125 1)" font-size="4.5" fill="#222" stroke="#222" stroke-width="0.08">m) 13 - Monitoramento e defesa da rede</text>
<rect x="196.8" y="555.0" width="30.4" height="7.45" fill="#318C74"/>
<text x="226.1" y="560.1" text-anchor="end" font-size="4.6" font-weight="bold" fill="#fff">0,00</text>
<rect x="227.6" y="555.0" width="30.7" height="7.45" fill="#318C74"/>
<text x="257.2" y="560.1" text-anchor="end" font-size="4.6" font-weight="bold" fill="#fff">0,00</text>
<rect x="258.7" y="555.0" width="30.7" height="7.45" fill="#318C74"/>
<text x="288.3" y="560.1" text-anchor="end" font-size="4.6" font-weight="bold" fill="#fff">0,00</text>
<rect x="289.8" y="555.0" width="30.1" height="7.45" fill="#318C74"/>
<text x="318.8" y="560.1" text-anchor="end" font-size="4.6" font-weight="bold" fill="#fff">0,00</text>
<rect x="31.1" y="562.4" width="165.5" height="7.4" fill="#EFEFEF"/>
<text transform="translate(32 567.7) scale(1.125 1)" font-size="4.5" fill="#222" stroke="#222" stroke-width="0.08">n) 14 - Conscientização sobre segurança e treinamento de competências</text>
<rect x="196.8" y="562.4" width="30.4" height="7.45" fill="#EB882D"/>
<text x="226.1" y="567.5" text-anchor="end" font-size="4.6" font-weight="bold" fill="#fff">72,50</text>
<rect x="227.6" y="562.4" width="30.7" height="7.45" fill="#D64550"/>
<text x="257.2" y="567.5" text-anchor="end" font-size="4.6" font-weight="bold" fill="#fff">100,00</text>
<rect x="258.7" y="562.4" width="30.7" height="7.45" fill="#D64550"/>
<text x="288.3" y="567.5" text-anchor="end" font-size="4.6" font-weight="bold" fill="#fff">100,00</text>
<rect x="289.8" y="562.4" width="30.1" height="7.45" fill="#97A642"/>
<text x="318.8" y="567.5" text-anchor="end" font-size="4.6" font-weight="bold" fill="#fff">25,00</text>
<rect x="31.1" y="569.8" width="165.5" height="7.4" fill="#fff"/>
<text transform="translate(32 575.1) scale(1.125 1)" font-size="4.5" fill="#222" stroke="#222" stroke-width="0.08">o) 15 - Gestão de provedor de serviços</text>
<rect x="196.8" y="569.8" width="30.4" height="7.45" fill="#D64550"/>
<text x="226.1" y="574.9" text-anchor="end" font-size="4.6" font-weight="bold" fill="#fff">100,00</text>
<rect x="227.6" y="569.8" width="30.7" height="7.45" fill="#D64550"/>
<text x="257.2" y="574.9" text-anchor="end" font-size="4.6" font-weight="bold" fill="#fff">100,00</text>
<rect x="258.7" y="569.8" width="30.7" height="7.45" fill="#D64550"/>
<text x="288.3" y="574.9" text-anchor="end" font-size="4.6" font-weight="bold" fill="#fff">100,00</text>
<rect x="289.8" y="569.8" width="30.1" height="7.45" fill="#83A04C"/>
<text x="318.8" y="574.9" text-anchor="end" font-size="4.6" font-weight="bold" fill="#fff">20,00</text>
<rect x="31.1" y="577.2" width="165.5" height="7.4" fill="#EFEFEF"/>
<text transform="translate(32 582.5) scale(1.125 1)" font-size="4.5" fill="#222" stroke="#222" stroke-width="0.08">p) 16 - Segurança de aplicações</text>
<rect x="196.8" y="577.2" width="30.4" height="7.45" fill="#318C74"/>
<text x="226.1" y="582.3" text-anchor="end" font-size="4.6" font-weight="bold" fill="#fff">0,00</text>
<rect x="227.6" y="577.2" width="30.7" height="7.45" fill="#318C74"/>
<text x="257.2" y="582.3" text-anchor="end" font-size="4.6" font-weight="bold" fill="#fff">0,00</text>
<rect x="258.7" y="577.2" width="30.7" height="7.45" fill="#318C74"/>
<text x="288.3" y="582.3" text-anchor="end" font-size="4.6" font-weight="bold" fill="#fff">0,00</text>
<rect x="289.8" y="577.2" width="30.1" height="7.45" fill="#318C74"/>
<text x="318.8" y="582.3" text-anchor="end" font-size="4.6" font-weight="bold" fill="#fff">0,00</text>
<rect x="31.1" y="584.6" width="165.5" height="7.4" fill="#fff"/>
<text transform="translate(32 589.9) scale(1.125 1)" font-size="4.5" fill="#222" stroke="#222" stroke-width="0.08">q) 17 - Gestão de respostas a incidentes</text>
<rect x="196.8" y="584.6" width="30.4" height="7.45" fill="#FAB714"/>
<text x="226.1" y="589.7" text-anchor="end" font-size="4.6" font-weight="bold" fill="#fff">53,33</text>
<rect x="227.6" y="584.6" width="30.7" height="7.45" fill="#D64550"/>
<text x="257.2" y="589.7" text-anchor="end" font-size="4.6" font-weight="bold" fill="#fff">100,00</text>
<rect x="258.7" y="584.6" width="30.7" height="7.45" fill="#D64550"/>
<text x="288.3" y="589.7" text-anchor="end" font-size="4.6" font-weight="bold" fill="#fff">100,00</text>
<rect x="289.8" y="584.6" width="30.1" height="7.45" fill="#83A04C"/>
<text x="318.8" y="589.7" text-anchor="end" font-size="4.6" font-weight="bold" fill="#fff">20,00</text>
<rect x="31.1" y="592.0" width="165.5" height="7.4" fill="#EFEFEF"/>
<text transform="translate(32 597.3) scale(1.125 1)" font-size="4.5" fill="#222" stroke="#222" stroke-width="0.08">r) 18 - Testes de invasão</text>
<rect x="196.8" y="592.0" width="30.4" height="7.45" fill="#318C74"/>
<text x="226.1" y="597.1" text-anchor="end" font-size="4.6" font-weight="bold" fill="#fff">0,00</text>
<rect x="227.6" y="592.0" width="30.7" height="7.45" fill="#318C74"/>
<text x="257.2" y="597.1" text-anchor="end" font-size="4.6" font-weight="bold" fill="#fff">0,00</text>
<rect x="258.7" y="592.0" width="30.7" height="7.45" fill="#318C74"/>
<text x="288.3" y="597.1" text-anchor="end" font-size="4.6" font-weight="bold" fill="#fff">0,00</text>
<rect x="289.8" y="592.0" width="30.1" height="7.45" fill="#318C74"/>
<text x="318.8" y="597.1" text-anchor="end" font-size="4.6" font-weight="bold" fill="#fff">0,00</text>
<line x1="196.6" x2="320.1" y1="473.6" y2="473.6" stroke="#fff" stroke-opacity="0.3" stroke-width="0.35"/>
<line x1="196.6" x2="320.1" y1="481.0" y2="481.0" stroke="#fff" stroke-opacity="0.3" stroke-width="0.35"/>
<line x1="196.6" x2="320.1" y1="488.4" y2="488.4" stroke="#fff" stroke-opacity="0.3" stroke-width="0.35"/>
<line x1="196.6" x2="320.1" y1="495.8" y2="495.8" stroke="#fff" stroke-opacity="0.3" stroke-width="0.35"/>
<line x1="196.6" x2="320.1" y1="503.2" y2="503.2" stroke="#fff" stroke-opacity="0.3" stroke-width="0.35"/>
<line x1="196.6" x2="320.1" y1="510.6" y2="510.6" stroke="#fff" stroke-opacity="0.3" stroke-width="0.35"/>
<line x1="196.6" x2="320.1" y1="518.0" y2="518.0" stroke="#fff" stroke-opacity="0.3" stroke-width="0.35"/>
<line x1="196.6" x2="320.1" y1="525.4" y2="525.4" stroke="#fff" stroke-opacity="0.3" stroke-width="0.35"/>
<line x1="196.6" x2="320.1" y1="532.8" y2="532.8" stroke="#fff" stroke-opacity="0.3" stroke-width="0.35"/>
<line x1="196.6" x2="320.1" y1="540.2" y2="540.2" stroke="#fff" stroke-opacity="0.3" stroke-width="0.35"/>
<line x1="196.6" x2="320.1" y1="547.6" y2="547.6" stroke="#fff" stroke-opacity="0.3" stroke-width="0.35"/>
<line x1="196.6" x2="320.1" y1="555.0" y2="555.0" stroke="#fff" stroke-opacity="0.3" stroke-width="0.35"/>
<line x1="196.6" x2="320.1" y1="562.4" y2="562.4" stroke="#fff" stroke-opacity="0.3" stroke-width="0.35"/>
<line x1="196.6" x2="320.1" y1="569.8" y2="569.8" stroke="#fff" stroke-opacity="0.3" stroke-width="0.35"/>
<line x1="196.6" x2="320.1" y1="577.2" y2="577.2" stroke="#fff" stroke-opacity="0.3" stroke-width="0.35"/>
<line x1="196.6" x2="320.1" y1="584.6" y2="584.6" stroke="#fff" stroke-opacity="0.3" stroke-width="0.35"/>
<line x1="196.6" x2="320.1" y1="592.0" y2="592.0" stroke="#fff" stroke-opacity="0.3" stroke-width="0.35"/>
</svg>
<div class="abs" style="left:360px;top:131px;width:819px;height:461px;background:#FAFAFA"></div>
<div class="abs" id="tbl" style="left:364px;top:135px;width:683px;height:289px;background:#fff;overflow:hidden">
<div class="abs th" style="left:3.5px;top:3px">Controle</div>
<div class="abs th" style="left:493.5px;top:3px">Criticidade<br>(%)</div>
<div class="abs th" style="left:580.7px;top:3px">Conformidade<br>(%)</div>
<div class="abs tr" style="top:49.0px;background:#fff"><span class="c1">1 - Inventário e controle de ativos corporativos</span><span class="c2">20,00</span><span class="c3">100,00</span></div>
<div class="abs tr" style="top:68.2px;background:#EDEDED"><span class="c1">2 - Inventário e controle de ativos de software</span><span class="c2">20,00</span><span class="c3">66,67</span></div>
<div class="abs tr" style="top:87.4px;background:#fff"><span class="c1">3 - Proteção de dados</span><span class="c2">33,33</span><span class="c3">100,00</span></div>
<div class="abs tr" style="top:106.6px;background:#EDEDED"><span class="c1">4 - Configuração segura de ativos corporativos e software</span><span class="c2">22,86</span><span class="c3">100,00</span></div>
<div class="abs tr" style="top:125.8px;background:#fff"><span class="c1">5 - Gestão de contas</span><span class="c2">35,00</span><span class="c3">87,50</span></div>
<div class="abs tr" style="top:145.0px;background:#EDEDED"><span class="c1">6 - Gestão do controle de acesso</span><span class="c2">40,00</span><span class="c3">100,00</span></div>
<div class="abs tr" style="top:164.2px;background:#fff"><span class="c1">7 - Gestão contínua de vulnerabilidades</span><span class="c2">20,00</span><span class="c3">100,00</span></div>
<div class="abs tr" style="top:183.4px;background:#EDEDED"><span class="c1">8 - Gestão de registros de auditoria</span><span class="c2">20,00</span><span class="c3">100,00</span></div>
<div class="abs tr" style="top:202.6px;background:#fff"><span class="c1">9 - Proteções de e-mail e navegador web</span><span class="c2">20,00</span><span class="c3">100,00</span></div>
<div class="abs tr" style="top:221.8px;background:#EDEDED"><span class="c1">10 - Defesas contra malware</span><span class="c2">33,33</span><span class="c3">100,00</span></div>
<div class="abs tr" style="top:241.0px;background:#fff"><span class="c1">11 - Recuperação de dados</span><span class="c2">30,00</span><span class="c3">100,00</span></div>
<div class="abs tr" style="top:260.2px;background:#EDEDED"><span class="c1">12 - Gestão da infraestrutura de rede</span><span class="c2">20,00</span><span class="c3">100,00</span></div>
<div class="abs tr" style="top:279.4px;background:#fff"><span class="c1">13 - Monitoramento e defesa da rede</span><span class="c2">0,00</span><span class="c3">100,00</span></div>
<div class="abs" style="left:0;top:49px;width:683px;height:1px;background:#CFE4F6"></div>
</div>
<div class="abs" style="left:364px;top:423.5px;width:684px;height:1px;background:#BBDDF7"></div>
<div class="abs tot" style="left:367.5px;top:424.8px">Total</div>
<div class="abs tot" style="left:838px;top:424.8px;width:100px;text-align:right">26,79</div>
<div class="abs tot" style="left:936px;top:424.8px;width:100px;text-align:right">96,43</div>
<div class="abs" style="left:1049px;top:136px;width:4px;height:211px;background:#A6A6A6;border-radius:2px"></div>
<svg class="abs" style="left:360px;top:440px" width="260" height="152" viewBox="360 440 260 152" font-family="Liberation Sans, sans-serif">
<text x="482.3" y="454" text-anchor="middle" font-size="10" fill="#333" letter-spacing="0.15">Criticidade Total (%)</text>
<path d="M441.30 551.90A47 47 0 0 1 437.48 513.33L460.50 521.12A22.7 22.7 0 0 0 462.34 539.75Z" fill="#318C74"/>
<path d="M437.48 513.33A47 47 0 0 1 464.77 484.67L473.68 507.28A22.7 22.7 0 0 0 460.50 521.12Z" fill="#A7CE6A"/>
<path d="M464.77 484.67A47 47 0 0 1 503.12 486.41L492.20 508.12A22.7 22.7 0 0 0 473.68 507.28Z" fill="#FDBF10"/>
<path d="M503.12 486.41A47 47 0 0 1 527.48 516.55L503.97 522.68A22.7 22.7 0 0 0 492.20 508.12Z" fill="#E66C37"/>
<path d="M527.48 516.55A47 47 0 0 1 522.70 551.90L501.66 539.75A22.7 22.7 0 0 0 503.97 522.68Z" fill="#D64550"/>
<path d="M474.72 524.88L451.77 507.76L476.07 522.90Z" fill="#9A9A9A"/>
<path d="M474.48 531.14A8 8 0 1 1 489.52 531.14" fill="none" stroke="#454545" stroke-width="2.2"/>
<text x="433.7" y="559" text-anchor="middle" font-size="7" fill="#222">0</text>
<text x="427" y="511.8" text-anchor="middle" font-size="7" fill="#222">20</text>
<text x="456.3" y="480" text-anchor="middle" font-size="7" fill="#222">40</text>
<text x="507.6" y="480" text-anchor="middle" font-size="7" fill="#222">60</text>
<text x="536.7" y="511.8" text-anchor="middle" font-size="7" fill="#222">80</text>
<text x="535" y="559" text-anchor="middle" font-size="7" fill="#222">100</text>
<text x="482" y="578.4" text-anchor="middle" font-size="16" fill="#111">26.8</text>
</svg>
<svg class="abs" style="left:600px;top:440px" width="450" height="152" viewBox="600 440 450 152" font-family="Liberation Sans, sans-serif">
<text x="824.5" y="453.5" text-anchor="middle" font-size="10" fill="#333" letter-spacing="0.15">Criticidade (%) por Controle</text>
<line x1="631" x2="1045" y1="568.0" y2="568.0" stroke="#E3E3E3" stroke-width="1" stroke-dasharray="1 2.5"/>
<text x="625.5" y="571.0" text-anchor="end" font-size="7.6" fill="#808080">0</text>
<line x1="631" x2="1045" y1="545.3" y2="545.3" stroke="#E3E3E3" stroke-width="1" stroke-dasharray="1 2.5"/>
<text x="625.5" y="548.3" text-anchor="end" font-size="7.6" fill="#808080">10</text>
<line x1="631" x2="1045" y1="522.6" y2="522.6" stroke="#E3E3E3" stroke-width="1" stroke-dasharray="1 2.5"/>
<text x="625.5" y="525.6" text-anchor="end" font-size="7.6" fill="#808080">20</text>
<line x1="631" x2="1045" y1="500.0" y2="500.0" stroke="#E3E3E3" stroke-width="1" stroke-dasharray="1 2.5"/>
<text x="625.5" y="503.0" text-anchor="end" font-size="7.6" fill="#808080">30</text>
<line x1="631" x2="1045" y1="477.3" y2="477.3" stroke="#E3E3E3" stroke-width="1" stroke-dasharray="1 2.5"/>
<text x="625.5" y="480.3" text-anchor="end" font-size="7.6" fill="#808080">40</text>
<rect x="631.7" y="522.6" width="18.4" height="45.4" fill="#118DFF"/>
<text transform="translate(643.3 545.3) rotate(-90)" text-anchor="middle" font-size="7" fill="#fff">20</text>
<rect x="654.8" y="522.6" width="18.4" height="45.4" fill="#118DFF"/>
<text transform="translate(666.4 545.3) rotate(-90)" text-anchor="middle" font-size="7" fill="#fff">20</text>
<rect x="678.0" y="492.4" width="18.4" height="75.6" fill="#118DFF"/>
<text transform="translate(689.6 530.2) rotate(-90)" text-anchor="middle" font-size="7" fill="#fff">33</text>
<rect x="701.1" y="516.2" width="18.4" height="51.8" fill="#118DFF"/>
<text transform="translate(712.7 542.1) rotate(-90)" text-anchor="middle" font-size="7" fill="#fff">23</text>
<rect x="724.2" y="488.6" width="18.4" height="79.4" fill="#118DFF"/>
<text transform="translate(735.8 528.3) rotate(-90)" text-anchor="middle" font-size="7" fill="#fff">35</text>
<rect x="747.4" y="477.3" width="18.4" height="90.7" fill="#118DFF"/>
<text transform="translate(759.0 522.6) rotate(-90)" text-anchor="middle" font-size="7" fill="#fff">40</text>
<rect x="770.5" y="522.6" width="18.4" height="45.4" fill="#118DFF"/>
<text transform="translate(782.1 545.3) rotate(-90)" text-anchor="middle" font-size="7" fill="#fff">20</text>
<rect x="793.6" y="522.6" width="18.4" height="45.4" fill="#118DFF"/>
<text transform="translate(805.2 545.3) rotate(-90)" text-anchor="middle" font-size="7" fill="#fff">20</text>
<rect x="816.7" y="522.6" width="18.4" height="45.4" fill="#118DFF"/>
<text transform="translate(828.3 545.3) rotate(-90)" text-anchor="middle" font-size="7" fill="#fff">20</text>
<rect x="839.9" y="492.4" width="18.4" height="75.6" fill="#118DFF"/>
<text transform="translate(851.5 530.2) rotate(-90)" text-anchor="middle" font-size="7" fill="#fff">33</text>
<rect x="863.0" y="500.0" width="18.4" height="68.0" fill="#118DFF"/>
<text transform="translate(874.6 534.0) rotate(-90)" text-anchor="middle" font-size="7" fill="#fff">30</text>
<rect x="886.1" y="522.6" width="18.4" height="45.4" fill="#118DFF"/>
<text transform="translate(897.7 545.3) rotate(-90)" text-anchor="middle" font-size="7" fill="#fff">20</text>
<rect x="932.4" y="511.3" width="18.4" height="56.7" fill="#118DFF"/>
<text transform="translate(944.0 539.7) rotate(-90)" text-anchor="middle" font-size="7" fill="#fff">25</text>
<rect x="955.5" y="522.6" width="18.4" height="45.4" fill="#118DFF"/>
<text transform="translate(967.1 545.3) rotate(-90)" text-anchor="middle" font-size="7" fill="#fff">20</text>
<rect x="1001.8" y="522.6" width="18.4" height="45.4" fill="#118DFF"/>
<text transform="translate(1013.4 545.3) rotate(-90)" text-anchor="middle" font-size="7" fill="#fff">20</text>
<text x="733.4" y="579" text-anchor="middle" font-size="7.6" fill="#808080">5</text>
<text x="849.1" y="579" text-anchor="middle" font-size="7.6" fill="#808080">10</text>
<text x="964.7" y="579" text-anchor="middle" font-size="7.6" fill="#808080">15</text>
<text x="837" y="588" text-anchor="middle" font-size="6.8" fill="#333" stroke="#333" stroke-width="0.25">Número do Controle</text>
<text transform="translate(613 516.5) rotate(-90)" text-anchor="middle" font-size="6.3" fill="#333" stroke="#333" stroke-width="0.2">Criticidade (%)</text>
</svg>
<div class="abs cn" style="top:152.8px;left:1056.0px;color:#D64550;letter-spacing:0px;-webkit-text-stroke:0.55px #FAFAFA">0</div>
<div class="abs cl" style="top:197.0px;color:#D64550">Criticidade Alta</div>
<div class="abs cn" style="top:243.6px;left:1056.0px;color:#E66C37;letter-spacing:0px;-webkit-text-stroke:0.55px #FAFAFA">2</div>
<div class="abs cl" style="top:288.0px;color:#E66C37">Criticidade Media Alta</div>
<div class="abs cn" style="top:337.7px;left:1056.0px;color:#F5B90F;letter-spacing:0px;-webkit-text-stroke:0.55px #FAFAFA">0</div>
<div class="abs cl" style="top:381.0px;color:#F5B90F">Criticidade Média</div>
<div class="abs cn" style="top:428.7px;left:1054.9px;color:#A7CE6A;letter-spacing:-1px;-webkit-text-stroke:0.55px #FAFAFA">13</div>
<div class="abs cl" style="top:472.0px;color:#A7CE6A">Criticidade Media Baixa</div>
<div class="abs cn" style="top:520.5px;left:1052.2px;color:#10A52C;letter-spacing:-2px;-webkit-text-stroke:0.15px #FAFAFA">41</div>
<div class="abs cl" style="top:564.6px;color:#10A52C">Criticidade Baixa</div>
<div id="foot" class="abs"></div>
<div class="abs btn" style="left:213px;width:135.6px;letter-spacing:-0.08px">Recomendações</div>
<div class="abs btn" style="left:521.4px;width:135.6px">Analítico</div>
<div class="abs btn" style="left:817px;width:135px;letter-spacing:-0.15px">Evidências</div>
<svg class="abs" style="left:0;top:621px" width="1181" height="44" viewBox="0 621 1181 44" fill="none" stroke="#212F50" stroke-width="1.6">
<circle cx="19.9" cy="642.4" r="11.7"/><path d="M21.8 636.7L15.8 642.4L21.8 648.1" stroke-linecap="round"/>
<rect x="1115.6" y="629.9" width="12" height="9.8"/><rect x="1108.8" y="639.9" width="25" height="11.6"/><rect x="1115.6" y="646.4" width="12" height="8.2" fill="#E2E4F0"/><circle cx="1112.3" cy="643.2" r="0.5" fill="#212F50" stroke-width="0.6"/>
<path d="M0 658.5A6.5 6.5 0 0 0 6.5 665H0Z" fill="#0c0c0c" stroke="none"/>
</svg>
<div id="botline" class="abs"></div>
</body>
</html>
